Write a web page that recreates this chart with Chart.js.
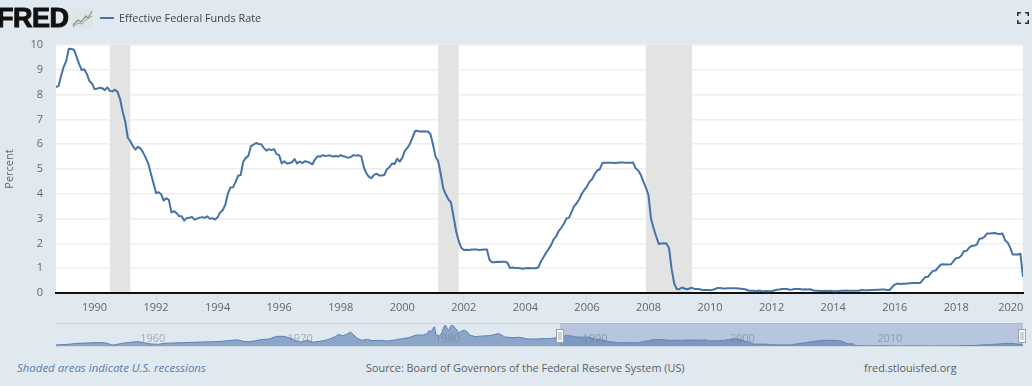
<!DOCTYPE html>
<html><head><meta charset="utf-8">
<script src="https://cdn.jsdelivr.net/npm/chart.js@4"></script>
<style>
html,body{margin:0;padding:0;background:#e1e9f0;width:1032px;height:386px;overflow:hidden;font-family:"Open Sans",sans-serif}
canvas{position:absolute;left:0}
.t{position:absolute;white-space:nowrap}
</style></head><body>
<canvas id="main" width="1032" height="318" style="top:0;width:1032px;height:318px"></canvas>
<canvas id="nav" width="1032" height="36" style="top:318px;width:1032px;height:36px"></canvas>
<div class="t" style="left:-3px;top:3px;font:900 27px/30px 'Liberation Sans',sans-serif;color:#111;letter-spacing:-.5px;-webkit-text-stroke:1px #111">FRED</div>
<svg class="t" style="left:72px;top:9px" width="21" height="19" viewBox="0 0 21 19"><rect width="21" height="19" fill="#dfe5e6"/><polyline points="1,16 6,11 9,13 14,7 16,9 20,2" fill="none" stroke="#7d9b78" stroke-width="1.2"/><polyline points="1,18 6,14 10,15 15,10 20,7" fill="none" stroke="#8aa0ae" stroke-width="1"/></svg>
<div class="t" style="left:100px;top:17px;width:14px;height:2px;background:#4572a7"></div>
<div class="t" id="legend" style="left:119px;top:9px;font-size:10.85px;line-height:18px;color:#3f454b">Effective Federal Funds Rate</div>
<svg class="t" style="left:1017px;top:12px" width="12" height="12" viewBox="0 0 12 12"><path d="M.8 4V.8H4M8 .8h3.2V4M11.2 8v3.2H8M4 11.2H.8V8" fill="none" stroke="#2b3440" stroke-width="1.6"/></svg>
<div class="t" style="left:17px;top:359px;font-size:11.45px;line-height:18px;font-style:italic;color:#5b7ea8">Shaded areas indicate U.S. recessions</div>
<div class="t" style="left:366px;top:359px;font-size:10.86px;line-height:18px;color:#5a5f66">Source: Board of Governors of the Federal Reserve System (US)</div>
<div class="t" style="left:864px;top:359px;font-size:10.85px;line-height:18px;color:#5a5f66">fred.stlouisfed.org</div>
<script>
const seriesName = "Effective Federal Funds Rate";
const startYear = 1988.75;   // October 1988, monthly values
const rates = [
 8.30,8.35,8.76,
 9.12,9.36,9.85,9.84,9.81,9.53,9.24,8.99,9.02,8.84,8.55,8.45,
 8.23,8.24,8.28,8.26,8.18,8.29,8.15,8.13,8.20,8.11,7.81,7.31,
 6.91,6.25,6.12,5.91,5.78,5.90,5.82,5.66,5.45,5.21,4.81,4.43,
 4.03,4.06,3.98,3.73,3.82,3.76,3.25,3.30,3.22,3.10,3.09,2.92,
 3.02,3.03,3.07,2.96,3.00,3.04,3.06,3.03,3.09,2.99,3.02,2.96,
 3.05,3.25,3.34,3.56,4.01,4.25,4.26,4.47,4.73,4.76,5.29,5.45,
 5.53,5.92,5.98,6.05,6.01,6.00,5.85,5.74,5.80,5.76,5.80,5.60,
 5.56,5.22,5.31,5.22,5.24,5.27,5.40,5.22,5.30,5.24,5.31,5.29,
 5.25,5.19,5.39,5.51,5.50,5.56,5.52,5.54,5.54,5.50,5.52,5.50,
 5.56,5.51,5.49,5.45,5.49,5.56,5.54,5.55,5.51,5.07,4.83,4.68,
 4.63,4.76,4.81,4.74,4.74,4.76,4.99,5.07,5.22,5.20,5.42,5.30,
 5.45,5.73,5.85,6.02,6.27,6.53,6.54,6.50,6.52,6.51,6.51,6.40,
 5.98,5.49,5.31,4.80,4.21,3.97,3.77,3.65,3.07,2.49,2.09,1.82,
 1.73,1.74,1.73,1.75,1.75,1.75,1.73,1.74,1.75,1.75,1.34,1.24,
 1.24,1.26,1.25,1.26,1.26,1.22,1.01,1.03,1.01,1.01,1.00,0.98,
 1.00,1.01,1.00,1.00,1.00,1.03,1.26,1.43,1.61,1.76,1.93,2.16,
 2.28,2.50,2.63,2.79,3.00,3.04,3.26,3.50,3.62,3.78,4.00,4.16,
 4.29,4.49,4.59,4.79,4.94,4.99,5.24,5.25,5.25,5.25,5.25,5.24,
 5.25,5.26,5.26,5.25,5.25,5.25,5.26,5.02,4.94,4.76,4.49,4.24,
 3.94,2.98,2.61,2.28,1.98,2.00,2.01,2.00,1.81,0.97,0.39,0.16,
 0.15,0.22,0.18,0.15,0.18,0.21,0.16,0.16,0.15,0.12,0.12,0.12,
 0.11,0.13,0.16,0.20,0.20,0.18,0.18,0.19,0.19,0.19,0.19,0.18,
 0.17,0.16,0.14,0.10,0.09,0.09,0.07,0.10,0.08,0.07,0.08,0.07,
 0.08,0.10,0.13,0.14,0.16,0.16,0.16,0.13,0.14,0.16,0.16,0.16,
 0.14,0.15,0.14,0.15,0.11,0.09,0.09,0.08,0.08,0.09,0.08,0.09,
 0.07,0.07,0.08,0.09,0.09,0.10,0.09,0.09,0.09,0.09,0.09,0.12,
 0.11,0.11,0.11,0.12,0.12,0.13,0.13,0.14,0.14,0.12,0.12,0.24,
 0.34,0.38,0.36,0.37,0.37,0.38,0.39,0.40,0.40,0.40,0.41,0.54,
 0.65,0.66,0.79,0.90,0.91,1.04,1.15,1.16,1.15,1.15,1.16,1.30,
 1.41,1.42,1.51,1.69,1.70,1.82,1.91,1.91,1.95,2.19,2.20,2.27,
 2.40,2.40,2.41,2.42,2.39,2.38,2.40,2.13,2.04,1.83,1.55,1.55,
 1.55,1.58,0.65
];
const xTicks = [1990,1992,1994,1996,1998,2000,2002,2004,2006,2008,2010,2012,2014,2016,2018,2020];
const yTicks = [0,1,2,3,4,5,6,7,8,9,10];
const recessions = [[1990.5,1991.167],[2001.167,2001.833],[2007.917,2009.417]];
const navTicks = [1960,1970,1980,1990,2000,2010];
const navWindow = [1988.75,2020.167];
const navEarlyYears = [1954.5,1955,1955.5,1956,1956.5,1957,1957.5,1958,1958.25,1958.5,1959,1959.5,1960,1960.25,1960.5,1961,1961.5,1962,1963,1964,1965,1965.5,1966,1966.5,1966.9,1967.25,1967.6,1968,1968.5,1969,1969.5,1970,1970.5,1971,1971.2,1971.6,1972,1972.5,1973,1973.5,1973.7,1974,1974.25,1974.55,1975,1975.3,1975.7,1976,1976.5,1977,1977.5,1978,1978.5,1979,1979.5,1979.75,1979.83,1980,1980.08,1980.17,1980.25,1980.33,1980.42,1980.5,1980.58,1980.67,1980.75,1980.83,1980.92,1981,1981.08,1981.17,1981.25,1981.33,1981.42,1981.5,1981.58,1981.67,1981.75,1981.83,1981.92,1982,1982.25,1982.5,1982.6,1982.75,1983,1983.5,1984,1984.6,1985,1985.5,1986,1986.5,1987,1987.5,1988,1988.5];
const navEarlyRates = [1.0,1.3,1.7,2.5,2.7,3.0,3.2,2.7,1.3,0.9,2.4,3.2,4.0,3.9,3.0,1.9,1.6,2.6,3.0,3.5,3.9,4.1,4.6,5.3,5.7,4.3,3.9,4.6,6.0,6.4,8.9,9.0,7.2,4.1,3.7,5.4,3.5,4.4,5.9,8.5,10.7,9.6,10.5,12.9,7.1,5.3,6.2,4.9,5.3,4.6,5.4,6.7,7.8,10.1,10.3,11.4,13.8,13.8,14.1,17.2,17.6,11.0,9.5,9.0,9.6,10.9,12.8,15.9,18.9,19.1,16.6,15.0,15.7,18.5,19.1,19.0,17.8,15.9,15.1,13.3,12.4,13.2,14.9,12.6,10.1,9.7,8.7,9.3,9.6,11.6,8.4,7.7,8.1,6.6,6.4,6.8,6.8,7.7];

const mainPoints = rates.map((v,i)=>({x:startYear+i/12,y:v}));
const navPoints = navEarlyYears.map((y,i)=>({x:y,y:navEarlyRates[i]})).concat(mainPoints);
const FONT = "'Open Sans',sans-serif";

new Chart(document.getElementById('main'),{
  type:'line',
  data:{datasets:[{label:seriesName,data:mainPoints,borderColor:'#4572a7',borderWidth:2,pointRadius:0,tension:0,borderJoinStyle:'round'}]},
  options:{
    responsive:false,animation:false,events:[],
    layout:{padding:{left:0,right:9,top:45,bottom:0}},
    plugins:{legend:{display:false},tooltip:{enabled:false}},
    scales:{
      x:{type:'linear',min:startYear,max:navWindow[1],
        afterBuildTicks:s=>{s.ticks=xTicks.map(v=>({value:v}));},
        afterFit:s=>{s.height=25;s.paddingRight=0;s.paddingLeft=0;},
        grid:{drawOnChartArea:false,drawTicks:true,tickLength:8,color:'#d3dbe3'},
        border:{color:'#111',width:2},
        ticks:{autoSkip:false,maxRotation:0,padding:0,color:'#666',font:{family:FONT,size:11},
          callback:v=>v===2020?'2020\u00A0\u00A0\u00A0\u00A0\u00A0':String(v)}},
      y:{min:0,max:10,
        afterBuildTicks:s=>{s.ticks=yTicks.map(v=>({value:v}));},
        afterFit:s=>{s.width=56;},
        grid:{color:'#eeeeee',lineWidth:1.5,drawTicks:false},
        border:{display:false},
        title:{display:true,text:'Percent',color:'#666',font:{family:FONT,size:11},padding:{top:3,bottom:0}},
        ticks:{padding:13,color:'#666',font:{family:FONT,size:11}}}
    }
  },
  plugins:[{id:'bands',
    beforeDraw(c){const a=c.chartArea,g=c.ctx;g.save();g.fillStyle='#fff';g.fillRect(a.left,a.top,a.right-a.left,a.bottom-a.top);g.restore();},
    beforeDatasetsDraw(c){const a=c.chartArea,g=c.ctx,x=c.scales.x;g.save();g.fillStyle='#e3e3e3';
      recessions.forEach(r=>{const l=x.getPixelForValue(r[0]),h=x.getPixelForValue(r[1]);g.fillRect(l,a.top,h-l,a.bottom-a.top-1);});g.restore();}
  }]
});

new Chart(document.getElementById('nav'),{
  type:'line',
  data:{datasets:[{label:seriesName+' (navigator)',data:navPoints,borderColor:'#5a82b4',borderWidth:1,backgroundColor:'#8ba6c9',fill:'origin',pointRadius:0,tension:0}]},
  options:{
    responsive:false,animation:false,events:[],
    layout:{padding:{left:56,right:9,top:5,bottom:8}},
    plugins:{legend:{display:false},tooltip:{enabled:false}},
    scales:{
      x:{type:'linear',min:1954.56,max:navWindow[1],
        afterBuildTicks:s=>{s.ticks=navTicks.map(v=>({value:v}));},
        afterFit:s=>{s.height=0;s.paddingRight=0;s.paddingLeft=0;},
        grid:{display:false},border:{display:false},
        ticks:{z:1,mirror:true,autoSkip:false,maxRotation:0,align:'start',padding:1,labelOffset:4,color:'rgba(120,125,135,.6)',font:{family:FONT,size:11},callback:v=>String(v)}},
      y:{display:false,min:0,max:21.3}
    }
  },
  plugins:[{id:'window',
    beforeDraw(c){const a=c.chartArea,g=c.ctx;g.save();g.fillStyle='#ced7e1';g.fillRect(a.left,a.top,a.right-a.left,1);g.fillRect(a.left,a.bottom,a.right-a.left,1);g.restore();},
    afterDraw(c){const a=c.chartArea,g=c.ctx,x=c.scales.x,l=x.getPixelForValue(navWindow[0]),r=x.getPixelForValue(navWindow[1]);
      g.save();g.fillStyle='rgba(95,125,185,.32)';g.fillRect(l,a.top,r-l,a.bottom-a.top);
      [l,r-1].forEach(p=>{const px=Math.round(p);g.fillStyle='#f6f6f6';g.strokeStyle='#9aa2ad';g.lineWidth=1;g.fillRect(px-3.5,a.top+6.5,7,13);g.strokeRect(px-3.5,a.top+6.5,7,13);
        g.fillStyle='#aab1bb';g.fillRect(px-1.5,a.top+9,1,8);g.fillRect(px+.5,a.top+9,1,8);});
      g.restore();}
  }]
});
</script>
</body></html>
